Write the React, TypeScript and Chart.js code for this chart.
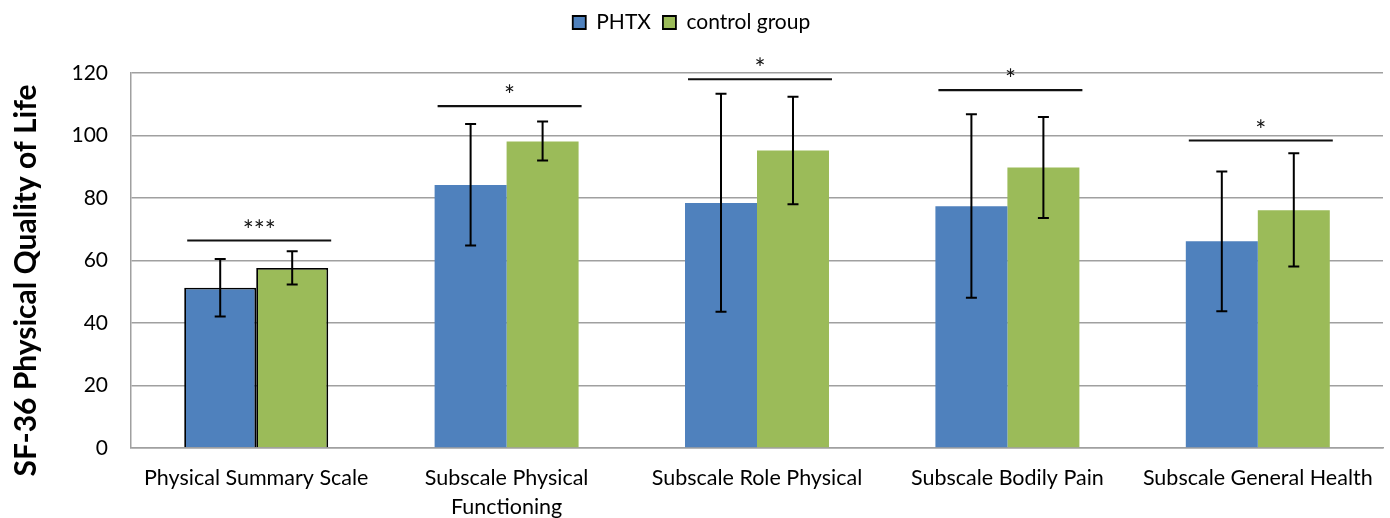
import React, { useEffect, useRef } from 'react';
import { Chart, registerables } from 'chart.js';

Chart.register(...registerables);

const categories: (string | string[])[] = [
  'Physical Summary Scale',
  ['Subscale Physical', 'Functioning'],
  'Subscale Role Physical',
  'Subscale Bodily Pain',
  'Subscale General Health',
];
const seriesNames = ['PHTX', 'control group'];
const phtxValues = [51.3, 84.2, 78.4, 77.4, 66.2];
const phtxLow = [42.1, 64.8, 43.6, 48.1, 43.8];
const phtxHigh = [60.5, 103.7, 113.4, 106.8, 88.5];
const controlValues = [57.6, 98.1, 95.2, 89.8, 76.1];
const controlLow = [52.3, 92.0, 78.0, 73.6, 58.1];
const controlHigh = [63.0, 104.5, 112.4, 105.9, 94.3];
const sigLevels = [66.4, 109.4, 118.0, 114.5, 98.4];
const sigMarks = ['***', '*', '*', '*', '*'];
const yTickValues = [0, 20, 40, 60, 80, 100, 120];
const yTitle = 'SF-36 Physical Quality of Life';

const FONT = 'Lato, Calibri, Carlito, sans-serif';
const errLows = [phtxLow, controlLow];
const errHighs = [phtxHigh, controlHigh];

const errorBarPlugin = {
  id: 'errorBars',
  afterDatasetsDraw(chart: any) {
    const ctx = chart.ctx;
    const y = chart.scales.y;
    ctx.save();
    ctx.strokeStyle = '#000';
    ctx.lineWidth = 2;
    chart.data.datasets.forEach((_ds: any, di: number) => {
      const meta = chart.getDatasetMeta(di);
      meta.data.forEach((bar: any, i: number) => {
        const x = bar.x;
        const yl = y.getPixelForValue(errLows[di][i]);
        const yh = y.getPixelForValue(errHighs[di][i]);
        const cap = 5.5;
        ctx.beginPath();
        ctx.moveTo(x, yl);
        ctx.lineTo(x, yh);
        ctx.moveTo(x - cap, yl);
        ctx.lineTo(x + cap, yl);
        ctx.moveTo(x - cap, yh);
        ctx.lineTo(x + cap, yh);
        ctx.stroke();
      });
    });
    ctx.restore();
  },
};

const sigPlugin = {
  id: 'sigLines',
  afterDatasetsDraw(chart: any) {
    const ctx = chart.ctx;
    const y = chart.scales.y;
    const m0 = chart.getDatasetMeta(0);
    const m1 = chart.getDatasetMeta(1);
    ctx.save();
    ctx.strokeStyle = '#111';
    ctx.fillStyle = '#111';
    ctx.lineWidth = 2.2;
    ctx.font = `26px ${FONT}`;
    ctx.textAlign = 'center';
    ctx.textBaseline = 'alphabetic';
    sigLevels.forEach((lvl, i) => {
      const b0 = m0.data[i];
      const b1 = m1.data[i];
      const x1 = b0.x - b0.width / 2 + 3;
      const x2 = b1.x + b1.width / 2 + 3;
      const yy = y.getPixelForValue(lvl);
      ctx.beginPath();
      ctx.moveTo(x1, yy);
      ctx.lineTo(x2, yy);
      ctx.stroke();
      ctx.fillText(sigMarks[i], (x1 + x2) / 2, yy - 1);
    });
    ctx.restore();
  },
};

const yTitlePlugin = {
  id: 'yTitle',
  afterDraw(chart: any) {
    const ctx = chart.ctx;
    const area = chart.chartArea;
    ctx.save();
    ctx.translate(26, (area.top + area.bottom) / 2 + 20);
    ctx.rotate(-Math.PI / 2);
    ctx.font = `bold 30px ${FONT}`;
    ctx.fillStyle = '#000';
    ctx.textAlign = 'center';
    ctx.textBaseline = 'middle';
    ctx.fillText(yTitle, 0, 0);
    ctx.restore();
  },
};

export default function App() {
  const ref = useRef<HTMLCanvasElement | null>(null);
  useEffect(() => {
    document.body.style.margin = '0';
    if (!ref.current) return;
    const chart = new Chart(ref.current, {
      type: 'bar',
      data: {
        labels: categories as any,
        datasets: [
          {
            label: seriesNames[0],
            data: phtxValues,
            backgroundColor: '#4F81BD',
            borderColor: '#000',
            borderWidth: [1.8, 0, 0, 0, 0] as any,
            categoryPercentage: 0.575,
            barPercentage: 1,
          },
          {
            label: seriesNames[1],
            data: controlValues,
            backgroundColor: '#9BBB59',
            borderColor: '#000',
            borderWidth: [1.8, 0, 0, 0, 0] as any,
            categoryPercentage: 0.575,
            barPercentage: 1,
          },
        ],
      },
      options: {
        animation: false,
        responsive: false,
        maintainAspectRatio: false,
        layout: { padding: { left: 0, right: 7, top: 0, bottom: 0 } },
        plugins: {
          legend: {
            position: 'top',
            weight: 3000,
            labels: {
              boxWidth: 13,
              boxHeight: 13,
              padding: 12,
              color: '#000',
              font: { family: FONT, size: 21 },
            },
          } as any,
          title: {
            display: true,
            text: ' ',
            weight: 100,
            padding: { top: 0, bottom: 18 },
            font: { size: 10 },
          } as any,
          tooltip: { enabled: false },
        },
        scales: {
          x: {
            grid: { display: false, drawTicks: false },
            border: { color: '#a0a0a0', width: 1.5 },
            ticks: {
              color: '#000',
              padding: 16,
              maxRotation: 0,
              autoSkip: false,
              font: { family: FONT, size: 21.5, lineHeight: 1.35 },
            },
            afterFit(scale: any) {
              scale.height = 70;
            },
          },
          y: {
            min: 0,
            max: 120,
            afterBuildTicks(scale: any) {
              scale.ticks = yTickValues.map((v) => ({ value: v }));
            },
            grid: { color: '#a0a0a0', lineWidth: 1.5, drawTicks: false },
            border: { color: '#a0a0a0', width: 1.5 },
            ticks: {
              color: '#000',
              padding: 23,
              font: { family: FONT, size: 21 },
            },
            afterFit(scale: any) {
              scale.width = 131;
            },
          },
        },
      },
      plugins: [errorBarPlugin, sigPlugin, yTitlePlugin],
    });
    return () => chart.destroy();
  }, []);
  return (
    <div style={{ width: 1390, height: 518 }}>
      <canvas ref={ref} width={1390} height={518} style={{ width: 1390, height: 518, display: 'block' }} />
    </div>
  );
}
